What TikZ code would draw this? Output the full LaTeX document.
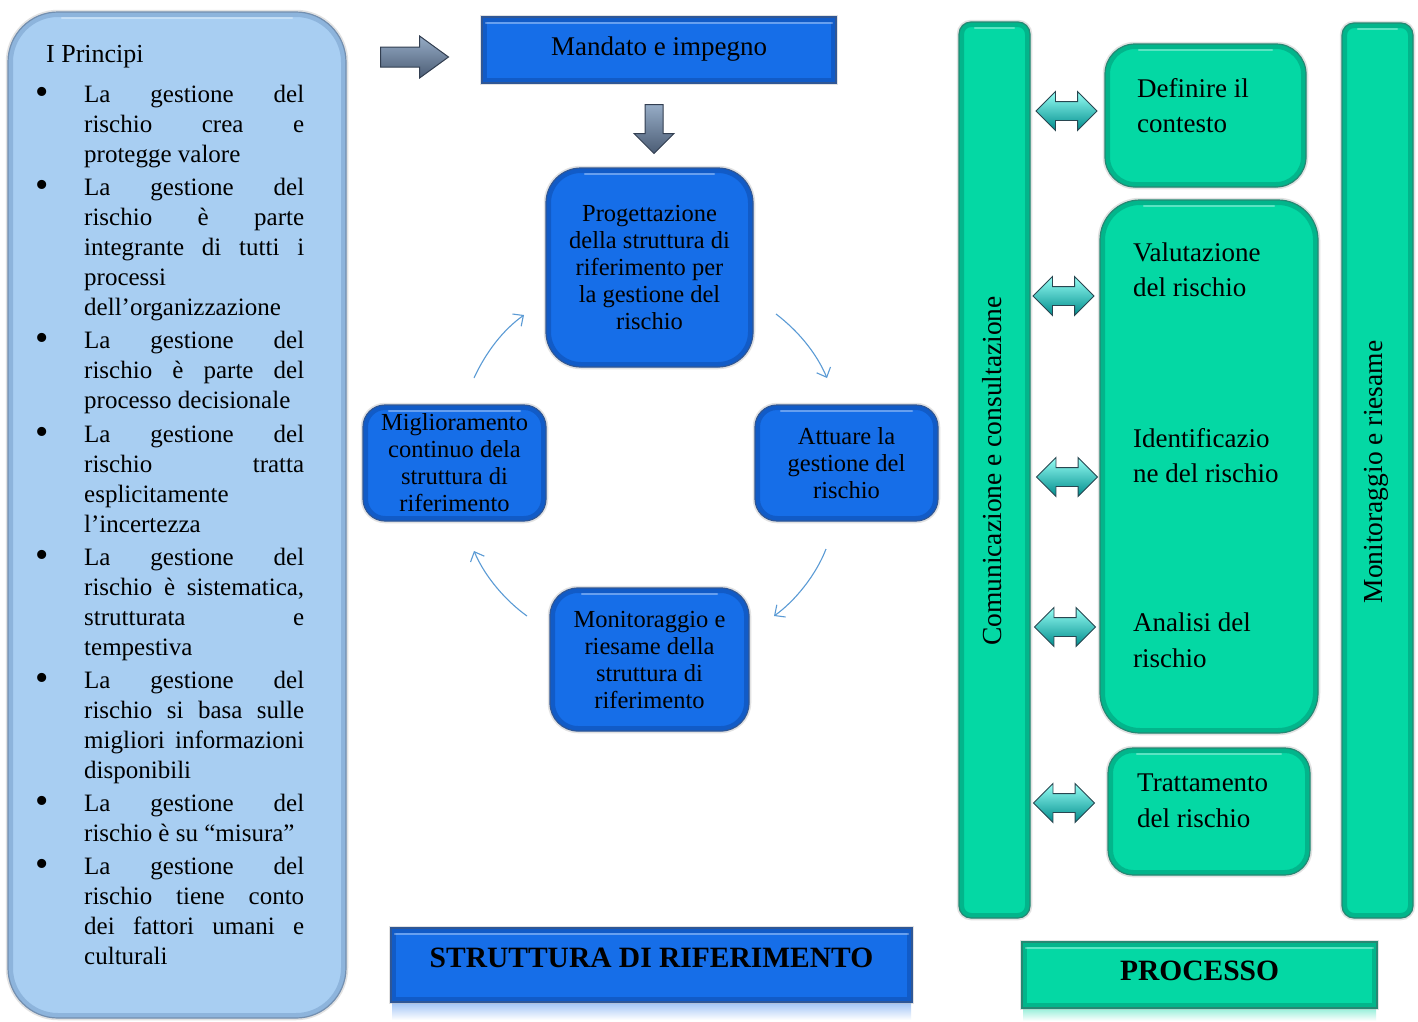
\documentclass[tikz,border=0pt]{standalone}
\usepackage{fontspec}
\setmainfont{Liberation Serif}
\usetikzlibrary{shapes.arrows,arrows.meta}

\definecolor{bluefill}{RGB}{22,110,232}
\definecolor{blueedge}{RGB}{12,70,160}
\definecolor{tealfill}{RGB}{4,216,164}
\definecolor{tealedge}{RGB}{0,140,110}
\definecolor{palefill}{RGB}{168,206,242}
\definecolor{paleedge}{RGB}{110,150,195}
\definecolor{loopline}{RGB}{91,155,213}
\definecolor{steeltop}{RGB}{232,239,247}
\definecolor{steelmid}{RGB}{150,172,198}
\definecolor{steelbot}{RGB}{75,92,116}
\definecolor{steeledge}{RGB}{50,62,80}
\definecolor{aquatop}{RGB}{150,255,245}
\definecolor{aquamid}{RGB}{40,228,215}
\definecolor{aquabot}{RGB}{0,140,140}
\definecolor{aquaedge}{RGB}{40,70,80}

% justified line of the principles list, and its bullet
\newcommand\jl[1]{\makebox[220pt][s]{#1}}
\newcommand\bitem{\leavevmode\llap{\raisebox{-2pt}{\fontsize{38}{30}\selectfont\textbullet}\hspace{35pt}}}

\tikzset{
  bevelbox/.style n args={3}{
    shape=rectangle, inner sep=0pt, rounded corners=#3,
    fill=#1, draw=#2!70!gray, line width=1.2pt,
    preaction={draw=black!25, line width=4.5pt, opacity=0.45},
    path picture={
      \draw[#2, line width=10pt, opacity=0.45, rounded corners=#3]
        (path picture bounding box.south west) rectangle (path picture bounding box.north east);
      \draw[white, line width=2.5pt, opacity=0.35, line cap=round]
        ([xshift=#3+4pt, yshift=-6pt]path picture bounding box.north west) --
        ([xshift=-#3-4pt, yshift=-6pt]path picture bounding box.north east);
    }},
  looparrow/.style={draw=loopline, line width=1.1pt, -{Straight Barb[length=8pt,width=15pt]}},
  steelarrow/.style={single arrow, draw=steeledge, line width=1pt, inner xsep=0pt,
    top color=steelmid, middle color=steeltop, bottom color=steelbot},
  aquaarrow/.style={double arrow, draw=aquaedge, line width=0.9pt, inner xsep=0pt, inner ysep=9pt,
    top color=aquatop, middle color=aquamid, bottom color=aquabot,
    minimum height=61pt, minimum width=38pt, double arrow head extend=10pt,
    double arrow tip angle=90},
  boxtext/.style={font=\fontsize{24.5}{27}\selectfont, align=center, inner sep=0pt},
  proctext/.style={font=\fontsize{27}{35.5}\selectfont, align=left, inner sep=0pt, anchor=west},
  sidetext/.style={font=\fontsize{27.5}{30}\selectfont, rotate=90, inner sep=0pt},
  titletext/.style={font=\fontsize{29.5}{30}\selectfont\bfseries, inner sep=0pt},
}

\begin{document}
\begin{tikzpicture}[x=1pt,y=-1pt]
\useasboundingbox (0,0) rectangle (1418,1021);
\fill[white] (0,0) rectangle (1418,1021);

% ---------- principles panel ----------
\node[bevelbox={palefill}{paleedge}{50pt}, minimum width=338pt, minimum height=1006pt] (principi) at (177,515) {};
\node[anchor=west, font=\fontsize{26}{30}\selectfont, inner sep=0pt] (titolo) at (46,57) {I Principi};
\node[anchor=base west, inner sep=0pt] (elenco) at (84,102) {\parbox[t]{230pt}{\fontsize{25}{30}\selectfont
\bitem\jl{La gestione del}\\
\jl{rischio crea e}\\
protegge valore\\[3.5pt]
\bitem\jl{La gestione del}\\
\jl{rischio è parte}\\
\jl{integrante di tutti i}\\
processi\\
dell’organizzazione\\[3pt]
\bitem\jl{La gestione del}\\
\jl{rischio è parte del}\\
processo decisionale\\[3.5pt]
\bitem\jl{La gestione del}\\
\jl{rischio tratta}\\
esplicitamente\\
l’incertezza\\[3pt]
\bitem\jl{La gestione del}\\
\jl{rischio è sistematica,}\\
\jl{strutturata e}\\
tempestiva\\[3pt]
\bitem\jl{La gestione del}\\
\jl{rischio si basa sulle}\\
\jl{migliori informazioni}\\
disponibili\\[3pt]
\bitem\jl{La gestione del}\\
rischio è su “misura”\\[3.5pt]
\bitem\jl{La gestione del}\\
\jl{rischio tiene conto}\\
\jl{dei fattori umani e}\\
culturali}};

% ---------- framework ----------
\node[steelarrow, anchor=tail, inner ysep=9.5pt, minimum height=68pt, minimum width=41pt,
  single arrow head extend=11pt, single arrow tip angle=72] (spinta) at (380,57) {};

\node[bevelbox={bluefill}{blueedge}{0pt}, minimum width=354pt, minimum height=66pt] (mandato) at (659,50) {};
\node[font=\fontsize{27}{30}\selectfont, inner sep=0pt] (mandatotxt) at (659,49) {Mandato e impegno};

\node[steelarrow, rotate=-90, anchor=tail, inner ysep=8.5pt, minimum height=49pt, minimum width=39pt,
  single arrow head extend=11pt, single arrow tip angle=90] (discesa) at (654,104) {};

\node[bevelbox={bluefill}{blueedge}{35pt}, minimum width=207pt, minimum height=199pt, boxtext] (progetto) at (649.5,267.5)
  {Progettazione\\della struttura di\\riferimento per\\la gestione del\\rischio};
\node[bevelbox={bluefill}{blueedge}{22pt}, minimum width=183pt, minimum height=116pt, boxtext] (migliora) at (454.5,463)
  {Miglioramento\\continuo dela\\struttura di\\riferimento};
\node[bevelbox={bluefill}{blueedge}{22pt}, minimum width=183pt, minimum height=116pt, boxtext] (attua) at (846.5,463)
  {Attuare la\\gestione del\\rischio};
\node[bevelbox={bluefill}{blueedge}{28pt}, minimum width=199pt, minimum height=143pt, boxtext] (monitora) at (649.5,659.5)
  {Monitoraggio e\\riesame della\\struttura di\\riferimento};

% cycle arrows
\coordinate (c1s) at (474,378); \coordinate (c1e) at (524,315);
\coordinate (c2s) at (776,314); \coordinate (c2e) at (827,378);
\coordinate (c3s) at (826,549); \coordinate (c3e) at (774,616);
\coordinate (c4s) at (527,616); \coordinate (c4e) at (474,551);
\draw[looparrow] (c1s) .. controls (486,352) and (503,330) .. (c1e);
\draw[looparrow] (c2s) .. controls (797,330) and (816,352) .. (c2e);
\draw[looparrow] (c3s) .. controls (816,575) and (795,601) .. (c3e);
\draw[looparrow] (c4s) .. controls (506,601) and (485,577) .. (c4e);

\fill[top color=bluefill!40!white, bottom color=white] (392,1003) rectangle (911,1020);
\node[bevelbox={bluefill}{blueedge}{0pt}, minimum width=521pt, minimum height=74pt] (struttura) at (651.5,965) {};
\node[titletext] (strutturatxt) at (651.5,958) {STRUTTURA DI RIFERIMENTO};

% ---------- process ----------
\node[bevelbox={tealfill}{tealedge}{12pt}, minimum width=71pt, minimum height=896pt] (comunica) at (994.5,470) {};
\node[sidetext] (comunicatxt) at (992,471) {Comunicazione e consultazione};
\node[bevelbox={tealfill}{tealedge}{12pt}, minimum width=71pt, minimum height=895pt] (riesame) at (1377.5,470.5) {};
\node[sidetext] (riesametxt) at (1376,472) {Monitoraggio e riesame};

\node[bevelbox={tealfill}{tealedge}{30pt}, minimum width=201pt, minimum height=143pt] (contesto) at (1205.5,115.5) {};
\node[proctext] (contestotxt) at (1137,105.5) {Definire il\\contesto};
\node[bevelbox={tealfill}{tealedge}{40pt}, minimum width=218pt, minimum height=533pt] (valuta) at (1209,466.5) {};
\node[proctext] (valutatxt) at (1133,270) {Valutazione\\del rischio};
\node[proctext] (identtxt) at (1133,455.5) {Identificazio\\ne del rischio};
\node[proctext] (analisitxt) at (1133,640.5) {Analisi del\\rischio};
\node[bevelbox={tealfill}{tealedge}{25pt}, minimum width=202pt, minimum height=127pt] (tratta) at (1209,811.5) {};
\node[proctext] (trattatxt) at (1137,801) {Trattamento\\del rischio};

\node[aquaarrow] (d1) at (1066.5,111) {};
\node[aquaarrow] (d2) at (1063.5,296) {};
\node[aquaarrow] (d3) at (1067,477) {};
\node[aquaarrow] (d4) at (1065,627) {};
\node[aquaarrow] (d5) at (1064,803) {};

\fill[top color=tealfill!40!white, bottom color=white] (1023,1009) rectangle (1376,1021);
\node[bevelbox={tealfill}{tealedge}{0pt}, minimum width=355pt, minimum height=66pt] (processo) at (1199.5,975) {};
\node[titletext] (processotxt) at (1199.5,971) {PROCESSO};
\end{tikzpicture}
\end{document}
